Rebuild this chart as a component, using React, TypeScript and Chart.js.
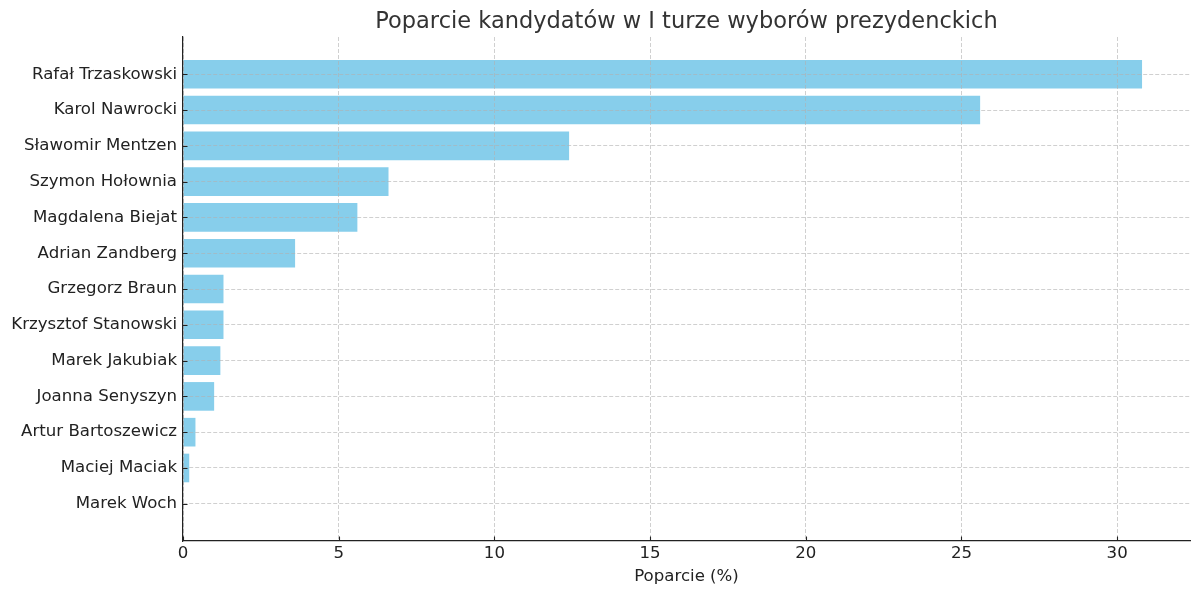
import React, { useEffect, useRef } from "react";
import { Chart, registerables } from "chart.js";

Chart.register(...registerables);

const chartTitle = "Poparcie kandydatów w I turze wyborów prezydenckich";
const xAxisTitle = "Poparcie (%)";
const candidates = [
  "Rafał Trzaskowski",
  "Karol Nawrocki",
  "Sławomir Mentzen",
  "Szymon Hołownia",
  "Magdalena Biejat",
  "Adrian Zandberg",
  "Grzegorz Braun",
  "Krzysztof Stanowski",
  "Marek Jakubiak",
  "Joanna Senyszyn",
  "Artur Bartoszewicz",
  "Maciej Maciak",
  "Marek Woch",
];
const support = [30.8, 25.6, 12.4, 6.6, 5.6, 3.6, 1.3, 1.3, 1.2, 1.0, 0.4, 0.2, 0.0];
const xTicks = [0, 5, 10, 15, 20, 25, 30];

export default function App() {
  const ref = useRef<HTMLCanvasElement>(null);

  useEffect(() => {
    document.body.style.margin = "0";
    const canvas = ref.current;
    if (!canvas) return;
    const FONT = "'DejaVu Sans', sans-serif";
    const TEXT = "#222222";
    const GRID = "rgba(176,176,176,0.6)";
    const AXIS = "#222222";

    const innerTicks = {
      id: "innerTicks",
      afterDraw(chart: any) {
        const { ctx, scales, chartArea } = chart;
        const xs = scales.x;
        const ys = scales.y;
        ctx.save();
        ctx.strokeStyle = AXIS;
        ctx.lineWidth = 1.1;
        ctx.beginPath();
        xTicks.forEach((v) => {
          const px = Math.round(xs.getPixelForValue(v)) + 0.5;
          ctx.moveTo(px, chartArea.bottom);
          ctx.lineTo(px, chartArea.bottom - 4.5);
        });
        candidates.forEach((_, i) => {
          const py = Math.round(ys.getPixelForValue(i)) + 0.5;
          ctx.moveTo(chartArea.left, py);
          ctx.lineTo(chartArea.left + 4.5, py);
        });
        ctx.stroke();
        ctx.restore();
      },
    };

    const chart = new Chart(canvas, {
      type: "bar",
      data: {
        datasets: [
          {
            data: support.map((v, i) => ({ x: v, y: i })),
            backgroundColor: "#87CEEB",
            borderWidth: 0,
            categoryPercentage: 1,
            barPercentage: 0.8,
          },
        ],
      },
      options: {
        indexAxis: "y",
        animation: false,
        responsive: false,
        devicePixelRatio: 1,
        layout: { padding: { top: 0, left: 0, right: 10, bottom: 0 } },
        plugins: {
          legend: { display: false },
          tooltip: { enabled: false },
          title: {
            display: true,
            text: chartTitle,
            fullSize: false,
            color: "#333333",
            font: { family: FONT, size: 22.5, weight: "normal" },
            padding: { top: 9, bottom: 1 },
          },
        },
        scales: {
          x: {
            type: "linear",
            position: "bottom",
            min: 0,
            max: 32.34,
            afterBuildTicks: (s: any) => {
              s.ticks = xTicks.map((v) => ({ value: v }));
            },
            afterFit: (s: any) => {
              s.height = 54;
            },
            ticks: {
              color: TEXT,
              font: { family: FONT, size: 16.6 },
              padding: 3,
              maxRotation: 0,
              callback: (v: any) => String(v),
            },
            grid: { color: GRID, lineWidth: 1, drawTicks: false, z: 1 },
            border: { display: true, color: AXIS, width: 1.2, dash: [4, 2], z: 2 },
            title: {
              display: true,
              text: xAxisTitle,
              color: TEXT,
              font: { family: FONT, size: 16.6 },
              padding: { top: 8, bottom: 8 },
            },
          },
          y: {
            type: "linear",
            position: "left",
            reverse: true,
            offset: false,
            min: -1.04,
            max: 13.04,
            afterBuildTicks: (s: any) => {
              s.ticks = candidates.map((_, i) => ({ value: i }));
            },
            afterFit: (s: any) => {
              s.width = 183;
            },
            ticks: {
              color: TEXT,
              font: { family: FONT, size: 16.6 },
              padding: 6,
              autoSkip: false,
              callback: (v: any) => candidates[v] ?? "",
            },
            grid: { color: GRID, lineWidth: 1, drawTicks: false, offset: false, z: 1 },
            border: { display: true, color: AXIS, width: 1.2, dash: [4, 2], z: 2 },
          },
        },
      },
      plugins: [innerTicks],
    } as any);

    return () => chart.destroy();
  }, []);

  return (
    <div style={{ position: "absolute", left: 0, top: 0, width: 1200, height: 595 }}>
      <canvas ref={ref} width={1200} height={595} style={{ display: "block" }} />
    </div>
  );
}
